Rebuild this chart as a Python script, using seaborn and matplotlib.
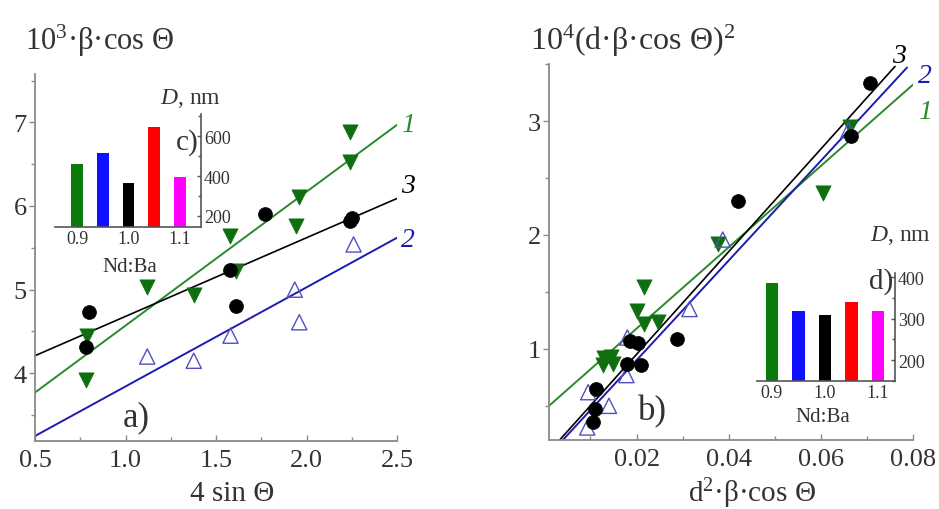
import numpy as np
import pandas as pd
import matplotlib
matplotlib.use("Agg")
import matplotlib.pyplot as plt
import seaborn as sns
from matplotlib.ticker import MultipleLocator

sns.set_theme(style="white")
plt.rcParams["font.family"] = ["Liberation Serif", "DejaVu Serif"]
plt.rcParams["mathtext.fontset"] = "custom"
plt.rcParams["mathtext.rm"] = "Liberation Serif"
plt.rcParams["mathtext.it"] = "Liberation Serif:italic"

# ---------------- data: panel a (Williamson-Hall) ----------------
a_x1 = [0.783, 0.787, 1.12, 1.377, 1.58, 1.61, 1.94, 1.96, 2.24, 2.24]
a_y1 = [3.92, 4.44, 5.03, 4.93, 5.64, 5.22, 5.76, 6.11, 6.53, 6.89]
a_x2 = [1.12, 1.377, 1.58, 1.935, 1.96, 2.26]
a_y2 = [4.20, 4.15, 4.45, 5.00, 4.61, 5.54]
a_x3 = [0.796, 0.783, 1.58, 1.61, 1.77, 2.24, 2.25]
a_y3 = [4.73, 4.31, 5.24, 4.81, 5.90, 5.82, 5.86]
a_fit_x = [0.5, 2.5]
a_fit1 = [3.77, 6.97]
a_fit2 = [3.25, 5.62]
a_fit3 = [4.21, 6.09]

# ---------------- data: panel b (size-strain) ----------------
b_x1 = [0.0127, 0.0130, 0.0145, 0.0148, 0.0200, 0.0217, 0.0217, 0.0246, 0.0376, 0.0604, 0.0663]
b_y1 = [0.86, 0.92, 0.93, 0.87, 1.33, 1.22, 1.54, 1.24, 1.92, 2.37, 2.95]
b_x2 = [0.0093, 0.0095, 0.0140, 0.0178, 0.0180, 0.0315, 0.0387, 0.0660]
b_y2 = [0.31, 0.62, 0.50, 0.77, 1.10, 1.35, 1.96, 2.92]
b_x3 = [0.0105, 0.0110, 0.0112, 0.0180, 0.0185, 0.0203, 0.0210, 0.0287, 0.0420, 0.0665, 0.0707]
b_y3 = [0.36, 0.47, 0.65, 0.87, 1.07, 1.05, 0.86, 1.09, 2.30, 2.87, 3.33]
b_fit1_x = [0.001, 0.080]
b_fit1 = [0.50, 3.32]
b_fit2_x = [0.0040, 0.0787]
b_fit2 = [0.20, 3.47]
b_fit3_x = [0.0033, 0.0761]
b_fit3 = [0.20, 3.48]

# ---------------- data: insets ----------------
ratio = [0.90, 0.95, 1.00, 1.05, 1.10]
D_c = [460, 515, 365, 645, 395]
D_d = [386, 318, 308, 340, 318]
bar_colors = ["#0a7a0a", "#1010ff", "#000000", "#ff0000", "#ff00ff"]

GREEN_L = "#2a8a2a"
GREEN_M = "#0f6e0f"
BLUE_L = "#1c1cb0"
BLUE_M = "#5050c0"
SPINE = "#8a8a8a"
TXT = "#333333"

fig = plt.figure(figsize=(9.39, 5.10), dpi=100)
axa = fig.add_axes([0.0373, 0.1333, 0.3855, 0.72])
axb = fig.add_axes([0.5847, 0.1353, 0.3876, 0.737])


def style_main(ax):
    for s in ["top", "right"]:
        ax.spines[s].set_visible(False)
    for s in ["left", "bottom"]:
        ax.spines[s].set_color(SPINE)
        ax.spines[s].set_linewidth(1.3)
    ax.tick_params(axis="y", which="both", direction="out", color=SPINE,
                   labelsize=19, labelcolor=TXT, left=True, width=1, pad=2)
    ax.tick_params(axis="y", which="major", length=4)
    ax.tick_params(axis="y", which="minor", length=3)
    ax.tick_params(axis="x", which="both", direction="in", color=SPINE,
                   labelsize=19, labelcolor=TXT, bottom=True, width=1, pad=6)
    ax.tick_params(axis="x", which="major", length=4)
    ax.tick_params(axis="x", which="minor", length=3)
    ax.grid(False)


# ---------- panel a ----------
sns.lineplot(x=a_fit_x, y=a_fit1, ax=axa, color=GREEN_L, lw=1.4)
sns.lineplot(x=a_fit_x, y=a_fit2, ax=axa, color=BLUE_L, lw=1.4)
sns.lineplot(x=a_fit_x, y=a_fit3, ax=axa, color="black", lw=1.2)
sns.scatterplot(x=a_x1, y=a_y1, ax=axa, marker="v", s=120, color=GREEN_M,
                edgecolor=GREEN_M, linewidth=0.5, zorder=3)
sns.scatterplot(x=a_x2, y=a_y2, ax=axa, marker="^", s=120, facecolors="none",
                edgecolor=BLUE_M, linewidth=1.0, zorder=3)
sns.scatterplot(x=a_x3, y=a_y3, ax=axa, marker="o", s=100, color="black",
                edgecolor="black", linewidth=0.5, zorder=3)
axa.set_xlim(0.5, 2.5)
axa.set_ylim(3.19, 7.58)
axa.xaxis.set_major_locator(MultipleLocator(0.5))
axa.xaxis.set_minor_locator(MultipleLocator(0.25))
axa.yaxis.set_major_locator(MultipleLocator(1))
axa.yaxis.set_minor_locator(MultipleLocator(0.5))
axa.xaxis.set_major_formatter(matplotlib.ticker.FormatStrFormatter("%.1f"))
style_main(axa)
axa.set_xlabel("4 sin Θ", fontsize=21, color=TXT, labelpad=0)
axa.xaxis.set_label_coords(0.544, -0.105)
axa.set_ylabel("")
fig.text(25 / 939, 1 - 50 / 510, r"10$^3$·β·cos Θ", fontsize=22, color=TXT,
         ha="left", va="baseline")
axa.text(2.52, 6.98, "1", color=GREEN_L, fontsize=20, style="italic", ha="left", va="center")
axa.text(2.52, 6.25, "3", color="black", fontsize=20, style="italic", ha="left", va="center")
axa.text(2.52, 5.60, "2", color=BLUE_L, fontsize=20, style="italic", ha="left", va="center")
axa.text(1.06, 3.48, "a)", color=TXT, fontsize=25, ha="center", va="center")

# ---------- panel b ----------
sns.lineplot(x=b_fit1_x, y=b_fit1, ax=axb, color=GREEN_L, lw=1.4)
sns.lineplot(x=b_fit2_x, y=b_fit2, ax=axb, color=BLUE_L, lw=1.4)
sns.lineplot(x=b_fit3_x, y=b_fit3, ax=axb, color="black", lw=1.2)
sns.scatterplot(x=b_x1, y=b_y1, ax=axb, marker="v", s=120, color=GREEN_M,
                edgecolor=GREEN_M, linewidth=0.5, zorder=3)
sns.scatterplot(x=b_x2, y=b_y2, ax=axb, marker="^", s=120, facecolors="none",
                edgecolor=BLUE_M, linewidth=1.0, zorder=3)
sns.scatterplot(x=b_x3, y=b_y3, ax=axb, marker="o", s=100, color="black",
                edgecolor="black", linewidth=0.5, zorder=3)
axb.set_xlim(0.001, 0.08)
axb.set_ylim(0.2, 3.5)
axb.xaxis.set_major_locator(MultipleLocator(0.02))
axb.xaxis.set_minor_locator(MultipleLocator(0.01))
axb.yaxis.set_major_locator(MultipleLocator(1))
axb.yaxis.set_minor_locator(MultipleLocator(0.5))
axb.xaxis.set_major_formatter(matplotlib.ticker.FormatStrFormatter("%.2f"))
style_main(axb)
axb.set_xlabel(r"d$^2$·β·cos Θ", fontsize=21, color=TXT, labelpad=0)
axb.xaxis.set_label_coords(0.558, -0.095)
axb.set_ylabel("")
fig.text(530 / 939, 1 - 50 / 510, r"10$^4$(d·β·cos Θ)$^2$", fontsize=23, color=TXT,
         ha="left", va="baseline")
axb.text(0.0755, 3.58, "3", color="black", fontsize=20, style="italic", ha="left", va="center")
axb.text(0.0810, 3.40, "2", color=BLUE_L, fontsize=20, style="italic", ha="left", va="center")
axb.text(0.0810, 3.08, "1", color=GREEN_L, fontsize=20, style="italic", ha="left", va="center")
axb.text(0.0235, 0.46, "b)", color=TXT, fontsize=25, ha="center", va="center")


# ---------- insets ----------
def inset(rect, D, ylim, yticks, yminor, xlim, letter, letter_y, dpos, npos):
    ax = fig.add_axes(rect)
    df = pd.DataFrame({"ratio": ratio, "D": D, "c": [str(r) for r in ratio]})
    sns.barplot(data=df, x="ratio", y="D", hue="c", palette=bar_colors,
                native_scale=True, dodge=False, legend=False, width=0.46,
                ax=ax, saturation=1, linewidth=0)
    ax.set_xlim(*xlim)
    ax.set_ylim(*ylim)
    ax.set_facecolor("none")
    ax.patch.set_alpha(0)
    for s in ["top", "left"]:
        ax.spines[s].set_visible(False)
    for s in ["right", "bottom"]:
        ax.spines[s].set_color("#555555")
        ax.spines[s].set_linewidth(1.2)
    ax.yaxis.tick_right()
    ax.set_yticks(yticks)
    ax.yaxis.set_minor_locator(MultipleLocator(yminor))
    ax.set_xticks([0.9, 1.0, 1.1])
    ax.set_xticklabels(["0.9", "1.0", "1.1"])
    ax.xaxis.set_minor_locator(MultipleLocator(0.05))
    ax.tick_params(axis="both", which="both", direction="in", color="#555555",
                   labelsize=13, labelcolor=TXT, width=1, pad=2)
    ax.tick_params(axis="y", which="major", length=3, right=True)
    ax.tick_params(axis="y", which="minor", length=2, right=True)
    ax.tick_params(axis="x", which="major", length=3, bottom=True)
    ax.tick_params(axis="x", which="minor", length=2, bottom=True)
    ax.set_xlabel("")
    ax.set_ylabel("")
    ax.grid(False)
    ax.text(npos[0], npos[1], "Nd:Ba", transform=ax.transAxes, fontsize=15,
            color=TXT, ha="center", va="center")
    ax.text(dpos[0], dpos[1], r"$\it{D}$, nm", transform=ax.transAxes, fontsize=17,
            color=TXT, ha="center", va="center")
    ax.text(0.985, letter_y, letter, transform=ax.transAxes, fontsize=21,
            color=TXT, ha="right", va="center")
    return ax


inset([55 / 939, 1 - 228 / 510, 146 / 939, 113 / 510], D_c, (145, 710),
      [200, 400, 600], 100, (0.857, 1.141), "c)", 0.76,
      (0.925, 1.15), (0.514, -0.35))
inset([757 / 939, 1 - 382 / 510, 138 / 939, 108 / 510], D_d, (150, 410),
      [200, 300, 400], 50, (0.872, 1.132), "d)", 0.93,
      (1.04, 1.36), (0.478, -0.33))

fig.savefig("out.png", dpi=100)
